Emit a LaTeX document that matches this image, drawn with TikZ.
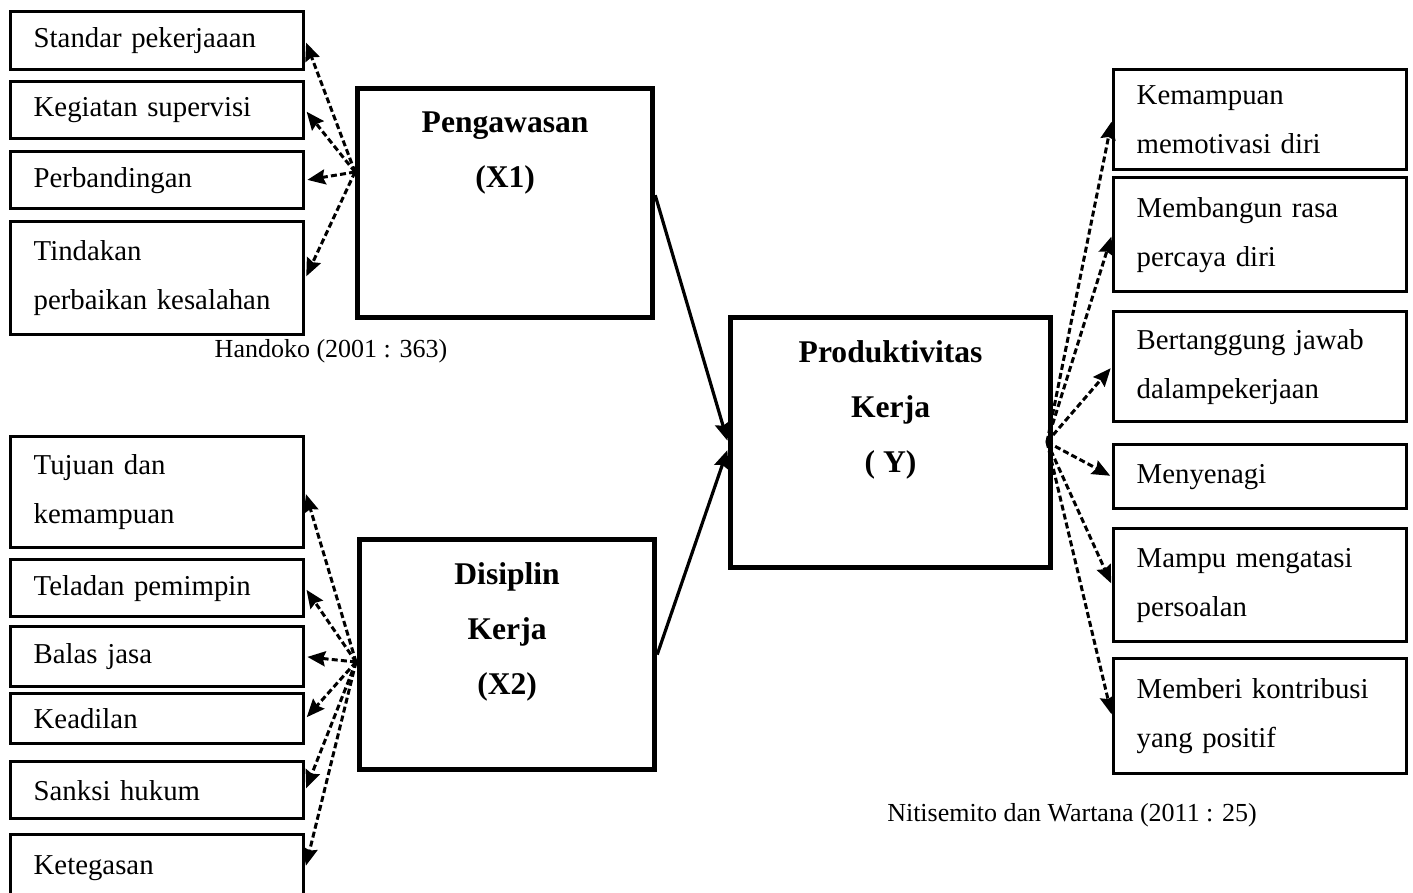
\documentclass[tikz,border=0pt]{standalone}
\usepackage{fontspec}
\setmainfont{Liberation Serif}
\usetikzlibrary{arrows.meta}

\newcommand{\boxfont}{\fontsize{14.4pt}{24.5pt}\selectfont}
\newcommand{\headfont}{\fontsize{15.8pt}{27.5pt}\selectfont\bfseries}
\newcommand{\notefont}{\fontsize{13pt}{15pt}\selectfont}

\begin{document}
\begin{tikzpicture}[x=0.5pt,y=-0.5pt,>={Stealth[length=9pt,width=7.5pt,inset=1.2pt]},shorten >=1pt,
    item/.style={draw,line width=1.7pt,anchor=north west,align=left,
      text width=123.5pt,inner xsep=11.5pt,inner ysep=0pt,font=\boxfont},
    factor/.style={draw,line width=2.6pt,anchor=north west},
    factortext/.style={anchor=north,align=center,yshift=-9.5pt,font=\headfont},
    dasharrow/.style={->,line width=1.5pt,dash pattern=on 3pt off 1.6pt},
    mainarrow/.style={->,line width=1.6pt}]
    \useasboundingbox (0,0) rectangle (1413,893);
    \clip (0,0) rectangle (1413,893);

    % variabel
    \node[factor,minimum width=147.5pt,minimum height=114.5pt] (peng) at (355,86)
        [label={[factortext]north:Pengawasan\\(X1)}] {};
    \node[factor,minimum width=147.5pt,minimum height=115pt] (disc) at (357,537)
        [label={[factortext]north:Disiplin\\Kerja\\(X2)}] {};
    \node[factor,minimum width=160pt,minimum height=125pt] (prod) at (728,315)
        [label={[factortext]north:Produktivitas\\Kerja\\( Y)}] {};

    % indikator X1
    \node[item,minimum height=29pt] (s1) at (9,10) {Standar pekerjaaan};
    \node[item,minimum height=28.5pt] (s2) at (9,80) {Kegiatan supervisi};
    \node[item,minimum height=28.5pt] (s3) at (9,150) {Perbandingan};
    \node[item,minimum height=56.5pt] (s4) at (9,220) {Tindakan\\perbaikan kesalahan};

    % indikator X2
    \node[item,minimum height=55.5pt] (d1) at (9,435) {Tujuan dan\\kemampuan};
    \node[item,minimum height=28.5pt] (d2) at (9,558) {Teladan pemimpin};
    \node[item,minimum height=30pt] (d3) at (9,625) {Balas jasa};
    \node[item,minimum height=25pt] (d4) at (9,692) {Keadilan};
    \node[item,minimum height=28.5pt] (d5) at (9,760) {Sanksi hukum};
    \node[item,minimum height=33pt] (d6) at (9,833) {Ketegasan};

    % indikator Y
    \node[item,minimum height=50pt] (y1) at (1112,68) {Kemampuan\\memotivasi diri};
    \node[item,minimum height=57pt] (y2) at (1112,176) {Membangun rasa\\percaya diri};
    \node[item,minimum height=55pt] (y3) at (1112,310) {Bertanggung jawab\\dalampekerjaan};
    \node[item,minimum height=32pt] (y4) at (1112,443) {Menyenagi};
    \node[item,minimum height=56.5pt] (y5) at (1112,527) {Mampu mengatasi\\persoalan};
    \node[item,minimum height=57.5pt] (y6) at (1112,657) {Memberi kontribusi\\yang positif};

    % sumber
    \node[font=\notefont] (srcX1) at (331,351) {Handoko (2001 : 363)};
    \node[font=\notefont] (srcY) at (1072,815) {Nitisemito dan Wartana (2011 : 25)};

    \coordinate (hubA) at (355,172);
    \coordinate (hubB) at (356,662);
    \coordinate (hubC) at (1047,442);

    \path[dasharrow]
    (hubA) edge (s1.east)
           edge (s2.east)
           edge (s3.east)
           edge (s4.east)
    (hubB) edge (d1.east)
           edge (d2.east)
           edge (d3.east)
           edge (d4.east)
           edge (d5.east)
           edge (d6.east)
    (hubC) edge (y1.west)
           edge (y2.west)
           edge (y3.west)
           edge (y4.west)
           edge (y5.west)
           edge (y6.west)
    ;
    \path[mainarrow]
    (peng.3) edge (prod.west)
    (disc.east) edge (prod.182)
    ;
\end{tikzpicture}
\end{document}
